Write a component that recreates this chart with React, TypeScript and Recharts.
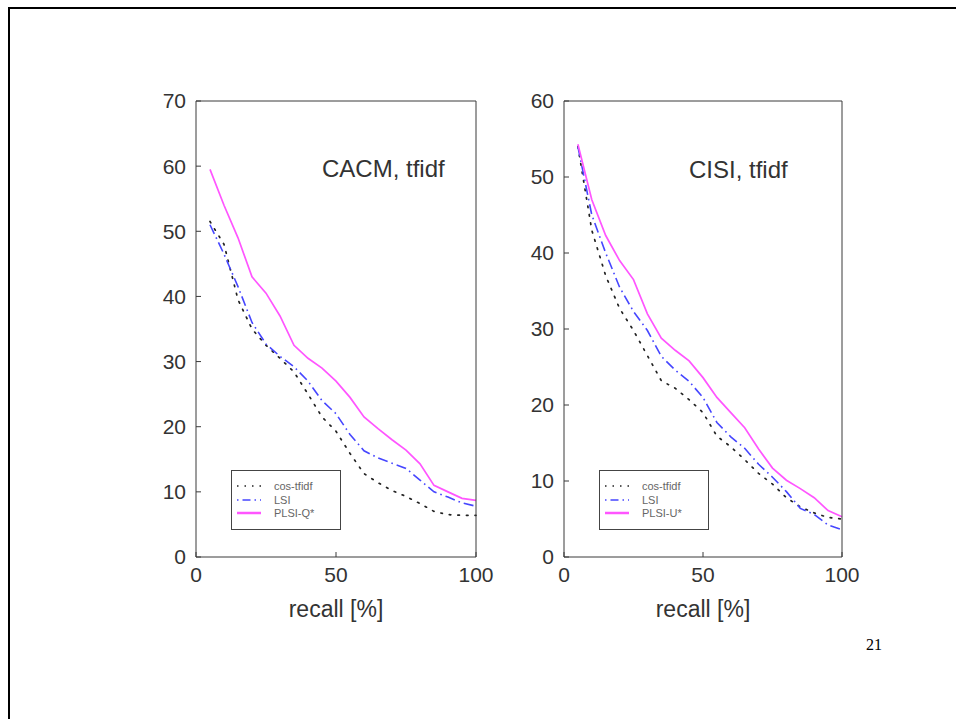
import { LineChart, Line, XAxis, YAxis, Legend } from "recharts";

// recall levels (%) shared by both panels
const recall = [5, 10, 15, 20, 25, 30, 35, 40, 45, 50, 55, 60, 65, 70, 75, 80, 85, 90, 95, 100];

// CACM, tfidf – precision (%)
const cacmCos = [51.5, 48, 39.5, 35, 32.5, 30.5, 28.4, 25, 21.5, 19.3, 15.9, 12.8, 11.4, 10.2, 9.3, 8.2, 7, 6.5, 6.4, 6.4];
const cacmLsi = [51, 46.5, 41.5, 36, 32.7, 30.8, 29.2, 27, 24, 22, 18.8, 16.3, 15.2, 14.4, 13.6, 11.8, 10, 9.2, 8.3, 7.8];
const cacmPlsi = [59.5, 54, 49, 43, 40.5, 37, 32.5, 30.5, 29, 27, 24.5, 21.5, 19.7, 18, 16.4, 14.3, 11, 10, 9, 8.7];

// CISI, tfidf – precision (%)
const cisiCos = [54, 43, 37, 32.7, 29.8, 26.5, 23.2, 22.2, 20.7, 19, 15.9, 14.5, 12.8, 11, 9.6, 7.8, 6.6, 5.8, 5.2, 5];
const cisiLsi = [54, 45, 40, 35.5, 32.3, 29.8, 26.4, 24.6, 23.1, 21, 17.7, 15.8, 14.3, 12.2, 10.5, 8.6, 6.4, 5.6, 4.2, 3.6];
const cisiPlsi = [54.3, 47, 42.3, 39, 36.5, 32, 28.8, 27.2, 25.8, 23.6, 21, 19, 17, 14.2, 11.7, 10.1, 9, 7.8, 6.1, 5.3];

const cacmTicks = [0, 10, 20, 30, 40, 50, 60, 70];
const cisiTicks = [0, 10, 20, 30, 40, 50, 60];
const xTicks = [0, 50, 100];

const FONT = "'Liberation Sans', Arial, Helvetica, sans-serif";
const AXIS = "#3a3a3a";

const styles = {
  cos: { stroke: "#222", dash: "1.6 7", width: 1.7 },
  lsi: { stroke: "#4646ff", dash: "10 4 1.6 4", width: 1.6 },
  plsi: { stroke: "#ff55ff", dash: undefined as string | undefined, width: 1.7 },
};

function LegendBox({ names }: { names: string[] }) {
  const keys = ["cos", "lsi", "plsi"] as const;
  return (
    <div
      style={{
        width: 108,
        height: 58,
        border: "1.5px solid #444",
        background: "#fff",
        position: "relative",
        fontFamily: FONT,
        fontSize: 11,
        color: "#666",
      }}
    >
      {keys.map((k, i) => (
        <div
          key={k}
          style={{ position: "absolute", left: 5, top: 9 + i * 13.5, height: 12, display: "flex", alignItems: "center" }}
        >
          <svg width={24} height={6}>
            <line x1={0} y1={3} x2={24} y2={3} stroke={styles[k].stroke} strokeWidth={k === "plsi" ? 2.5 : 1.5} strokeDasharray={k === "cos" ? "1.5 6" : k === "lsi" ? "1.5 4 8 4" : undefined} />
          </svg>
          <span style={{ marginLeft: 13, lineHeight: "12px" }}>{names[i]}</span>
        </div>
      ))}
    </div>
  );
}

function Panel({
  left,
  cos,
  lsi,
  plsi,
  yMax,
  yTicks,
  names,
  rightMargin,
}: {
  left: number;
  cos: number[];
  lsi: number[];
  plsi: number[];
  yMax: number;
  yTicks: number[];
  names: string[];
  rightMargin: number;
}) {
  const rows = recall.map((r, i) => ({ r, cos: cos[i], lsi: lsi[i], plsi: plsi[i] }));
  const tickStyle = { fontSize: 21, fill: "#333", fontFamily: FONT };
  return (
    <div style={{ position: "absolute", left, top: 80 }}>
      <LineChart width={360} height={580} data={rows} margin={{ top: 20, right: rightMargin, bottom: 43, left: 0 }}>
        <XAxis
          dataKey="r"
          type="number"
          domain={[0, 100]}
          ticks={xTicks}
          tickSize={-5}
          tickMargin={15}
          tick={tickStyle}
          stroke={AXIS}
          height={60}
          interval={0}
          label={{ value: "recall [%]", position: "insideBottom", offset: 0, style: { fontSize: 23, fill: "#333", fontFamily: FONT } }}
        />
        <XAxis xAxisId="top" orientation="top" dataKey="r" type="number" domain={[0, 100]} ticks={xTicks} tickSize={-5} tick={false} stroke={AXIS} height={1} interval={0} />
        <YAxis
          type="number"
          domain={[0, yMax]}
          ticks={yTicks}
          tickSize={-5}
          tickMargin={15}
          tick={tickStyle}
          stroke={AXIS}
          width={56}
          interval={0}
        />
        <YAxis yAxisId="right" orientation="right" type="number" domain={[0, yMax]} ticks={yTicks} tickSize={-5} tick={false} stroke={AXIS} width={1} interval={0} />
        <Legend
          layout="vertical"
          align="center"
          verticalAlign="middle"
          wrapperStyle={{ left: 91, top: 390, width: "auto" }}
          content={() => <LegendBox names={names} />}
        />
        {/* invisible series so the top / right box axes get registered */}
        <Line xAxisId="top" yAxisId="right" dataKey="plsi" stroke="transparent" strokeWidth={0} dot={false} activeDot={false} legendType="none" isAnimationActive={false} />
        <Line dataKey="cos" name={names[0]} stroke={styles.cos.stroke} strokeWidth={styles.cos.width} strokeDasharray={styles.cos.dash} strokeLinecap="round" dot={false} isAnimationActive={false} />
        <Line dataKey="lsi" name={names[1]} stroke={styles.lsi.stroke} strokeWidth={styles.lsi.width} strokeDasharray={styles.lsi.dash} dot={false} isAnimationActive={false} />
        <Line dataKey="plsi" name={names[2]} stroke={styles.plsi.stroke} strokeWidth={styles.plsi.width} dot={false} isAnimationActive={false} />
      </LineChart>
    </div>
  );
}

export default function App() {
  return (
    <div style={{ position: "absolute", left: 0, top: 0, width: 956, height: 719, overflow: "hidden", background: "#fff" }}>
      <div style={{ position: "absolute", left: 8, top: 7, width: 1000, height: 1000, border: "2px solid #000" }} />
      <Panel left={140} cos={cacmCos} lsi={cacmLsi} plsi={cacmPlsi} yMax={70} yTicks={cacmTicks} names={["cos-tfidf", "LSI", "PLSI-Q*"]} rightMargin={23} />
      <Panel left={508} cos={cisiCos} lsi={cisiLsi} plsi={cisiPlsi} yMax={60} yTicks={cisiTicks} names={["cos-tfidf", "LSI", "PLSI-U*"]} rightMargin={25} />
      <div style={{ position: "absolute", left: 322, top: 155, fontFamily: FONT, fontSize: 24, color: "#333", whiteSpace: "nowrap" }}>CACM, tfidf</div>
      <div style={{ position: "absolute", left: 689, top: 156, fontFamily: FONT, fontSize: 24, color: "#333", whiteSpace: "nowrap" }}>CISI, tfidf</div>
      <div style={{ position: "absolute", left: 866, top: 636, fontFamily: "'Liberation Serif', 'Times New Roman', serif", fontSize: 16, color: "#000" }}>21</div>
    </div>
  );
}
